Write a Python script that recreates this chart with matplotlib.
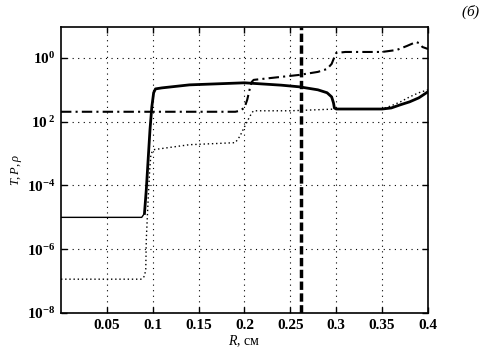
import matplotlib
matplotlib.use("Agg")
import matplotlib.pyplot as plt

# Temperature-like curve (solid): thin low part, thick after the jump
t_low_x = [0.0, 0.088, 0.091]
t_low_y = [1e-5, 1e-5, 1.33e-5]
t_x = [0.091, 0.093, 0.095, 0.097, 0.099, 0.101, 0.103, 0.11, 0.14, 0.2, 0.24,
       0.26, 0.28, 0.29, 0.295, 0.297, 0.298, 0.30, 0.35, 0.36, 0.37, 0.38, 0.39, 0.4]
t_y = [1.33e-5, 7.5e-5, 6.5e-4, 5.6e-3, 0.029, 0.081, 0.107, 0.115, 0.143, 0.166, 0.14,
       0.124, 0.1, 0.081, 0.06, 0.039, 0.027, 0.025, 0.025, 0.027, 0.034, 0.042, 0.056, 0.087]

# Pressure-like curve (dash-dot)
p_x = [0.0, 0.19, 0.195, 0.2, 0.203, 0.206, 0.208, 0.21, 0.23, 0.26, 0.28, 0.29,
       0.295, 0.298, 0.30, 0.31, 0.35, 0.366, 0.377, 0.387, 0.39, 0.394, 0.4]
p_y = [0.0205, 0.0205, 0.022, 0.0275, 0.049, 0.115, 0.178, 0.205, 0.237, 0.294, 0.365, 0.45,
       0.65, 1.07, 1.43, 1.54, 1.54, 1.78, 2.37, 3.16, 2.94, 2.2, 1.91]

# Density-like curve (dotted)
r_x = [0.0, 0.088, 0.091, 0.0924, 0.093, 0.095, 0.0967, 0.098, 0.1, 0.102, 0.14, 0.19,
       0.195, 0.2, 0.204, 0.208, 0.21, 0.25, 0.3, 0.35, 0.36, 0.37, 0.38, 0.39, 0.4]
r_y = [1.15e-7, 1.15e-7, 1.43e-7, 2.37e-7, 2.05e-6, 3.66e-5, 3.16e-4, 9.3e-4, 1.24e-3, 1.34e-3,
       1.9e-3, 2.2e-3, 3.5e-3, 6.9e-3, 0.0116, 0.019, 0.022, 0.022, 0.025, 0.025, 0.0316,
       0.042, 0.06, 0.081, 0.1]

front_x = 0.262

x_ticks = [0.05, 0.1, 0.15, 0.2, 0.25, 0.3, 0.35, 0.4]
x_ticklabels = ["0.05", "0.1", "0.15", "0.2", "0.25", "0.3", "0.35", "0.4"]
y_ticks = [1e-8, 1e-6, 1e-4, 1e-2, 1e0]
y_ticklabels = [r"$\mathbf{10^{-8}}$", r"$\mathbf{10^{-6}}$", r"$\mathbf{10^{-4}}$",
                r"$\mathbf{10^{\;2}}$", r"$\mathbf{10^{0}}$"]

plt.rcParams['font.family'] = ['Liberation Serif', 'DejaVu Serif']
plt.rcParams['mathtext.fontset'] = 'custom'
plt.rcParams['mathtext.rm'] = 'Liberation Serif'
plt.rcParams['mathtext.bf'] = 'Liberation Serif:bold'
plt.rcParams['mathtext.it'] = 'Liberation Serif:italic'

fig = plt.figure(figsize=(4.95, 3.54), dpi=100)
ax = fig.add_axes([0.1232, 0.1158, 0.7414, 0.8079])

ax.plot(t_low_x, t_low_y, color='black', lw=1.0, solid_capstyle='butt')
ax.plot(t_x, t_y, color='black', lw=2.0)
ax.plot(p_x, p_y, color='black', lw=1.5, linestyle=(0, (5, 2, 1, 2)))
ax.plot(r_x, r_y, color='black', lw=1.0, linestyle=(0, (1, 2)))
ax.axvline(front_x, color='black', lw=2.5, linestyle=(0, (2.4, 1.0)))

ax.set_yscale('log')
ax.set_xlim(0, 0.4)
ax.set_ylim(1e-8, 10 ** 0.97)
ax.set_xticks(x_ticks)
ax.set_xticklabels(x_ticklabels, fontweight='bold', fontsize=11)
ax.set_yticks(y_ticks)
ax.set_yticklabels(y_ticklabels, fontsize=11)
ax.yaxis.set_minor_locator(matplotlib.ticker.NullLocator())
ax.tick_params(direction='in', length=4, width=1, top=True, right=True, pad=4)
ax.grid(True, color='black', linestyle=(0, (1, 4)), lw=0.8)
for s in ax.spines.values():
    s.set_linewidth(1.2)

ax.set_xlabel(r"$R$, см", fontsize=10, labelpad=1)
ax.set_ylabel(r"$T, P, \rho$", fontsize=9, labelpad=2)
fig.text(0.95, 0.965, r"($\mathit{б}$)", fontsize=11, ha='center', va='center', style='italic')

fig.savefig("out.png", dpi=100)
